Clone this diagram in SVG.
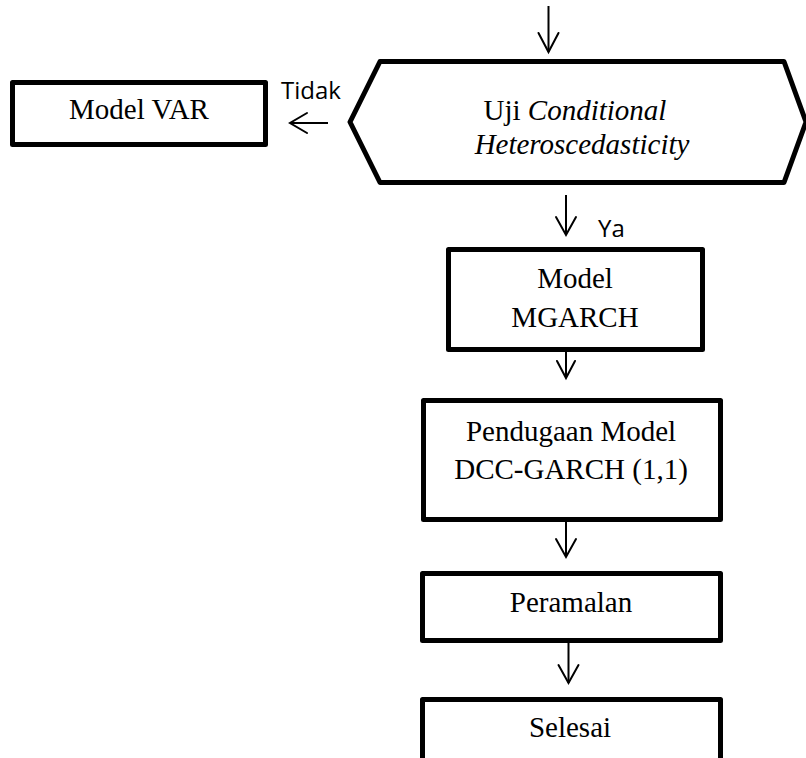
<svg xmlns="http://www.w3.org/2000/svg" width="806" height="758" viewBox="0 0 806 758">
<defs>
<style>
.box{fill:#fff;stroke:#000;stroke-width:5;stroke-linejoin:round}
.t{font-family:"Liberation Serif","Times New Roman",serif;font-size:29px;fill:#000;text-anchor:middle}
.it{font-style:italic}
.lbl{font-family:"Open Sans","Liberation Sans",sans-serif;font-size:24px;fill:#000}
.ln{stroke:#000;stroke-width:2;fill:none}
.ah{stroke:#000;stroke-width:2;fill:none;stroke-linecap:round;stroke-linejoin:miter}
</style>
</defs>
<rect width="806" height="758" fill="#fff"/>
<g id="model-var">
<rect class="box" x="12.5" y="82.5" width="253" height="62"/>
<text class="t" x="139" y="119">Model VAR</text>
</g>
<g id="uji">
<polygon class="box" points="350,122 380,61.5 784,61.5 806,122 784,182.5 380,182.5"/>
<text class="t" x="575" y="120">Uji <tspan class="it">Conditional</tspan></text>
<text class="t it" x="582" y="154">Heteroscedasticity</text>
</g>
<g id="mgarch">
<rect class="box" x="448.5" y="249.5" width="254" height="100"/>
<text class="t" x="575" y="288">Model</text>
<text class="t" x="575" y="327">MGARCH</text>
</g>
<g id="pendugaan">
<rect class="box" x="423.5" y="400.5" width="297" height="119"/>
<text class="t" x="571" y="441">Pendugaan Model</text>
<text class="t" x="571" y="479">DCC-GARCH (1,1)</text>
</g>
<g id="peramalan">
<rect class="box" x="422.5" y="573.5" width="298" height="67"/>
<text class="t" x="571" y="612">Peramalan</text>
</g>
<g id="selesai">
<path class="box" d="M422.5,765 V699.5 H720.5 V765"/>
<text class="t" x="570" y="737">Selesai</text>
</g>
<g id="connectors">
<line class="ln" x1="548.5" y1="6" x2="548.5" y2="52"/>
<polyline class="ah" points="538.5,33 548.5,52 558.5,33"/>
<line class="ln" x1="328" y1="123" x2="290" y2="123"/>
<polyline class="ah" points="307,113 290,123 307,133"/>
<line class="ln" x1="566" y1="195" x2="566" y2="235"/>
<polyline class="ah" points="556,217 566,235 576,217"/>
<line class="ln" x1="566" y1="352" x2="566" y2="378"/>
<polyline class="ah" points="557,361 566,378 575,361"/>
<line class="ln" x1="566" y1="522" x2="566" y2="557"/>
<polyline class="ah" points="556,539 566,557 576,539"/>
<line class="ln" x1="568.5" y1="643" x2="568.5" y2="683"/>
<polyline class="ah" points="558.5,665 568.5,683 578.5,665"/>
</g>
<g id="labels">
<text class="lbl" x="281" y="99">Tidak</text>
<text class="lbl" x="598" y="237">Ya</text>
</g>
</svg>
